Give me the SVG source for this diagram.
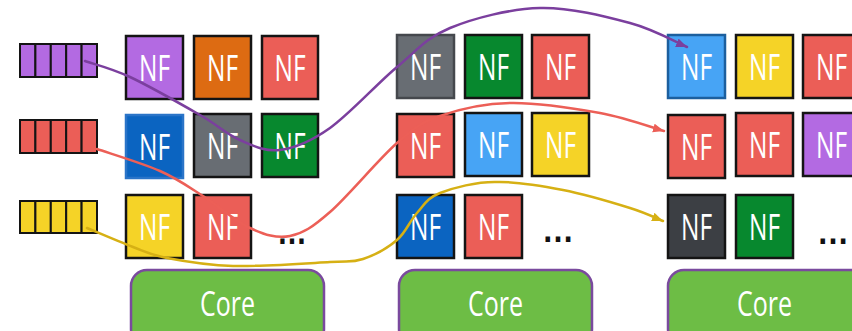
<svg xmlns="http://www.w3.org/2000/svg" width="852" height="331" viewBox="0 0 852 331">
  <defs>
    <style>
      .nf { stroke: #141414; stroke-width: 2.5; }
      .nft { fill: #ffffff; font-family: "Open Sans", "DejaVu Sans", sans-serif; font-size: 36px; text-anchor: middle; }
      .core { fill: #6DBD45; stroke: #7A4A9E; stroke-width: 2.5; }
      .coret { fill: #ffffff; font-family: "Open Sans", "DejaVu Sans", sans-serif; font-size: 35px; text-anchor: middle; }
      .cell { stroke: #141414; stroke-width: 2; }
      .dots { fill: #111111; font-family: "Liberation Sans", sans-serif; font-size: 36px; font-weight: bold; }
      .link { fill: none; stroke-width: 2.5; stroke-linecap: round; }
      .purple { fill: #B36AE2; }
      .orange { fill: #DD6B12; }
      .red { fill: #EB5E57; }
      .blue { fill: #0B64C1; }
      .gray { fill: #686D73; }
      .green { fill: #07882E; }
      .yellow { fill: #F5D327; }
      .sky { fill: #47A4F5; }
      .dark { fill: #3C3F44; }
    </style>
    <marker id="arrow-purple" markerUnits="userSpaceOnUse" markerWidth="12" markerHeight="10" refX="11" refY="4.5" orient="auto">
      <path d="M0,0 L11,4.5 L0,9 Z" fill="#7B3F9E"/>
    </marker>
    <marker id="arrow-red" markerUnits="userSpaceOnUse" markerWidth="12" markerHeight="10" refX="11" refY="4.5" orient="auto">
      <path d="M0,0 L11,4.5 L0,9 Z" fill="#EC5F57"/>
    </marker>
    <marker id="arrow-yellow" markerUnits="userSpaceOnUse" markerWidth="12" markerHeight="10" refX="11" refY="4.5" orient="auto">
      <path d="M0,0 L11,4.5 L0,9 Z" fill="#D6B014"/>
    </marker>
  </defs>

  <rect width="852" height="331" fill="#ffffff"/>

  <!-- packet queues -->
  <g id="queue-purple" class="purple">
    <rect class="cell" x="20" y="44" width="15.4" height="33"/>
    <rect class="cell" x="35.4" y="44" width="15.4" height="33"/>
    <rect class="cell" x="50.8" y="44" width="15.4" height="33"/>
    <rect class="cell" x="66.2" y="44" width="15.4" height="33"/>
    <rect class="cell" x="81.6" y="44" width="15.4" height="33"/>
  </g>
  <g id="queue-red" class="red">
    <rect class="cell" x="20" y="120" width="15.4" height="33"/>
    <rect class="cell" x="35.4" y="120" width="15.4" height="33"/>
    <rect class="cell" x="50.8" y="120" width="15.4" height="33"/>
    <rect class="cell" x="66.2" y="120" width="15.4" height="33"/>
    <rect class="cell" x="81.6" y="120" width="15.4" height="33"/>
  </g>
  <g id="queue-yellow" class="yellow">
    <rect class="cell" x="20" y="201" width="15.4" height="32"/>
    <rect class="cell" x="35.4" y="201" width="15.4" height="32"/>
    <rect class="cell" x="50.8" y="201" width="15.4" height="32"/>
    <rect class="cell" x="66.2" y="201" width="15.4" height="32"/>
    <rect class="cell" x="81.6" y="201" width="15.4" height="32"/>
  </g>

  <!-- core 1 -->
  <g id="core-1">
    <rect class="core" x="131" y="270" width="193" height="75" rx="16"/>
    <text class="coret" x="227.5" y="316" textLength="55" lengthAdjust="spacingAndGlyphs">Core</text>
  </g>
  <g id="c1-nf-1"><rect class="nf purple" x="126" y="36" width="57" height="63"/><text class="nft" x="154.5" y="81" textLength="31" lengthAdjust="spacingAndGlyphs">NF</text></g>
  <g id="c1-nf-2"><rect class="nf orange" x="194" y="36" width="57" height="63"/><text class="nft" x="222.5" y="81" textLength="31" lengthAdjust="spacingAndGlyphs">NF</text></g>
  <g id="c1-nf-3"><rect class="nf red" x="262" y="36" width="56" height="63"/><text class="nft" x="290" y="81" textLength="31" lengthAdjust="spacingAndGlyphs">NF</text></g>
  <g id="c1-nf-4"><rect class="nf blue" x="126" y="115" width="57" height="63" style="stroke:#2A74C8"/><text class="nft" x="154.5" y="160" textLength="31" lengthAdjust="spacingAndGlyphs">NF</text></g>
  <g id="c1-nf-5"><rect class="nf gray" x="194" y="114" width="57" height="63"/><text class="nft" x="222.5" y="159" textLength="31" lengthAdjust="spacingAndGlyphs">NF</text></g>
  <g id="c1-nf-6"><rect class="nf green" x="262" y="114" width="56" height="63"/><text class="nft" x="290" y="159" textLength="31" lengthAdjust="spacingAndGlyphs">NF</text></g>
  <g id="c1-nf-7"><rect class="nf yellow" x="126" y="195" width="57" height="63"/><text class="nft" x="154.5" y="240" textLength="31" lengthAdjust="spacingAndGlyphs">NF</text></g>
  <g id="c1-nf-8"><rect class="nf red" x="194" y="195" width="57" height="63"/><text class="nft" x="222.5" y="240" textLength="31" lengthAdjust="spacingAndGlyphs">NF</text></g>
  <g id="c1-more"><text class="dots" x="277" y="244" textLength="30" lengthAdjust="spacingAndGlyphs">…</text></g>

  <!-- core 2 -->
  <g id="core-2">
    <rect class="core" x="399" y="270" width="193" height="75" rx="16"/>
    <text class="coret" x="495.5" y="316" textLength="55" lengthAdjust="spacingAndGlyphs">Core</text>
  </g>
  <g id="c2-nf-1"><rect class="nf gray" x="397" y="35" width="57" height="63" style="stroke:#45484D"/><text class="nft" x="425.5" y="80" textLength="31" lengthAdjust="spacingAndGlyphs">NF</text></g>
  <g id="c2-nf-2"><rect class="nf green" x="465" y="35" width="57" height="63"/><text class="nft" x="493.5" y="80" textLength="31" lengthAdjust="spacingAndGlyphs">NF</text></g>
  <g id="c2-nf-3"><rect class="nf red" x="532" y="35" width="57" height="63"/><text class="nft" x="560.5" y="80" textLength="31" lengthAdjust="spacingAndGlyphs">NF</text></g>
  <g id="c2-nf-4"><rect class="nf red" x="397" y="114" width="57" height="63"/><text class="nft" x="425.5" y="159" textLength="31" lengthAdjust="spacingAndGlyphs">NF</text></g>
  <g id="c2-nf-5"><rect class="nf sky" x="465" y="113" width="57" height="63"/><text class="nft" x="493.5" y="158" textLength="31" lengthAdjust="spacingAndGlyphs">NF</text></g>
  <g id="c2-nf-6"><rect class="nf yellow" x="532" y="113" width="57" height="63"/><text class="nft" x="560.5" y="158" textLength="31" lengthAdjust="spacingAndGlyphs">NF</text></g>
  <g id="c2-nf-7"><rect class="nf blue" x="397" y="195" width="57" height="63"/><text class="nft" x="425.5" y="240" textLength="31" lengthAdjust="spacingAndGlyphs">NF</text></g>
  <g id="c2-nf-8"><rect class="nf red" x="465" y="195" width="57" height="63"/><text class="nft" x="493.5" y="240" textLength="31" lengthAdjust="spacingAndGlyphs">NF</text></g>
  <g id="c2-more"><text class="dots" x="542" y="242" textLength="32" lengthAdjust="spacingAndGlyphs">…</text></g>

  <!-- core 3 -->
  <g id="core-3">
    <rect class="core" x="668" y="270" width="200" height="75" rx="16"/>
    <text class="coret" x="764.5" y="316" textLength="55" lengthAdjust="spacingAndGlyphs">Core</text>
  </g>
  <g id="c3-nf-1"><rect class="nf sky" x="668" y="35" width="57" height="63" style="stroke:#1C5F9E"/><text class="nft" x="696.5" y="80" textLength="31" lengthAdjust="spacingAndGlyphs">NF</text></g>
  <g id="c3-nf-2"><rect class="nf yellow" x="736" y="35" width="57" height="63"/><text class="nft" x="764.5" y="80" textLength="31" lengthAdjust="spacingAndGlyphs">NF</text></g>
  <g id="c3-nf-3"><rect class="nf red" x="803" y="35" width="57" height="63"/><text class="nft" x="831.5" y="80" textLength="31" lengthAdjust="spacingAndGlyphs">NF</text></g>
  <g id="c3-nf-4"><rect class="nf red" x="668" y="115" width="57" height="63"/><text class="nft" x="696.5" y="160" textLength="31" lengthAdjust="spacingAndGlyphs">NF</text></g>
  <g id="c3-nf-5"><rect class="nf red" x="736" y="113" width="57" height="63"/><text class="nft" x="764.5" y="158" textLength="31" lengthAdjust="spacingAndGlyphs">NF</text></g>
  <g id="c3-nf-6"><rect class="nf purple" x="803" y="113" width="57" height="63"/><text class="nft" x="831.5" y="158" textLength="31" lengthAdjust="spacingAndGlyphs">NF</text></g>
  <g id="c3-nf-7"><rect class="nf dark" x="668" y="195" width="57" height="63"/><text class="nft" x="696.5" y="240" textLength="31" lengthAdjust="spacingAndGlyphs">NF</text></g>
  <g id="c3-nf-8"><rect class="nf green" x="736" y="195" width="57" height="63"/><text class="nft" x="764.5" y="240" textLength="31" lengthAdjust="spacingAndGlyphs">NF</text></g>
  <g id="c3-more"><text class="dots" x="817" y="244" textLength="32" lengthAdjust="spacingAndGlyphs">…</text></g>

  <!-- flows from each queue through the NF chains -->
  <g id="connectors">
    <path class="link" stroke="#7B3F9E" marker-end="url(#arrow-purple)"
      d="M85,61 C92.5,63.7 110.8,68 130,77 C149.2,86 181.7,104.5 200,115 C218.3,125.5 226.7,134.2 240,140 C253.3,145.8 265,152 280,150 C295,148 310.5,141.8 330,128 C349.5,114.2 377,83.7 397,67 C417,50.3 426.2,37.8 450,28 C473.8,18.2 510,8.8 540,8 C570,7.2 605.5,16.5 630,23 C654.5,29.5 677.5,43 687,47"/>
    <path class="link" stroke="#EC5F57" marker-end="url(#arrow-red)"
      d="M97,149 C107.5,152.7 142.3,163.2 160,171 C177.7,178.8 188,186.5 203,196 C218,205.5 235.5,221.3 250,228 C264.5,234.7 276.7,238.7 290,236 C303.3,233.3 312.2,227.5 330,212 C347.8,196.5 378.7,159 397,143 C415.3,127 421.2,122.7 440,116 C458.8,109.3 483.3,103.5 510,103 C536.7,102.5 574.3,108.3 600,113 C625.7,117.7 653.3,128 664,131"/>
    <path class="link" stroke="#D6B014" marker-end="url(#arrow-yellow)"
      d="M87,228 C94.7,231.2 119.7,242 133,247 C146.3,252 150.3,254.8 167,258 C183.7,261.2 205.8,265.3 233,266 C260.2,266.7 308.3,263.2 330,262 C351.7,260.8 351.8,262.7 363,259 C374.2,255.3 388,247.7 397,240 C406,232.3 409.8,220.8 417,213 C424.2,205.2 426.7,198.2 440,193 C453.3,187.8 476.5,181.5 497,182 C517.5,181.5 540.8,185.7 563,190 C585.2,194.3 613.3,202.8 630,208 C646.7,213.2 657.5,218.8 663,221"/>
  </g>
</svg>
